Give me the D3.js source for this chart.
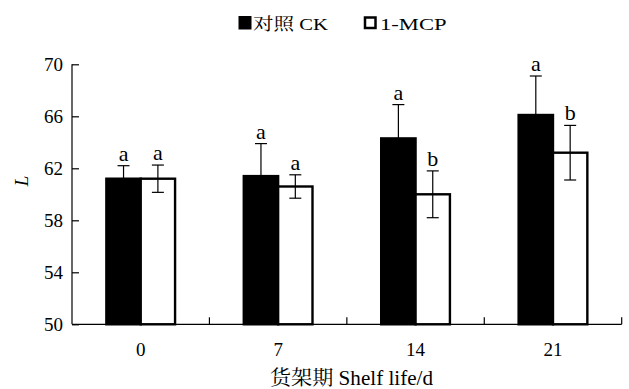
<!DOCTYPE html>
<html>
<head>
<meta charset="utf-8">
<script src="https://cdn.jsdelivr.net/npm/d3@7/dist/d3.min.js"></script>
<style>
  html, body { margin: 0; padding: 0; background: #fff; }
  svg { display: block; }
  text { font-family: "Liberation Serif", "Times New Roman", "Noto Serif CJK SC", "Noto Sans CJK SC", serif; fill: #000; }
</style>
</head>
<body>
<svg id="chart" width="629" height="389"></svg>
<script>
// Shelf-life days and L* values (mean ± SD) for control and 1-MCP treatment
const days = ["0", "7", "14", "21"];
const seriesNames = ["对照 CK", "1-MCP"];
const ckMean = [61.2, 61.4, 64.3, 66.1];
const ckErr = [1.0, 2.5, 2.6, 3.0];
const mcpMean = [61.2, 60.6, 60.0, 63.2];
const mcpErr = [1.05, 0.9, 1.8, 2.1];
const ckSig = ["a", "a", "a", "a"];
const mcpSig = ["a", "a", "b", "b"];
const yTicks = [50, 54, 58, 62, 66, 70];

const series = [
  { name: seriesNames[0], mean: ckMean, err: ckErr, sig: ckSig, fill: "#000" },
  { name: seriesNames[1], mean: mcpMean, err: mcpErr, sig: mcpSig, fill: "#fff" }
];

const svg = d3.select("#chart");
const plotL = 72, plotR = 621.7, plotT = 64.3, plotB = 324.3;

const x = d3.scaleBand().domain(days).range([plotL, plotR])
  .paddingInner(0.5).paddingOuter(0.25);
const xs = d3.scaleBand().domain(seriesNames).range([0, x.bandwidth()]);
const y = d3.scaleLinear().domain([50, 70]).range([plotB, plotT]);

// Bars
series.forEach(s => {
  const g = svg.append("g");
  g.selectAll("rect").data(days).join("rect")
    .attr("x", d => x(d) + xs(s.name))
    .attr("y", (d, i) => y(s.mean[i]))
    .attr("width", xs.bandwidth())
    .attr("height", (d, i) => y(50) - y(s.mean[i]))
    .attr("fill", s.fill)
    .attr("stroke", "#000")
    .attr("stroke-width", 2.4);
});

// Error bars and significance letters
series.forEach(s => {
  const g = svg.append("g").attr("stroke", "#000").attr("stroke-width", 1.2);
  days.forEach((d, i) => {
    const cx = x(d) + xs(s.name) + xs.bandwidth() / 2;
    const hi = y(s.mean[i] + s.err[i]);
    const lo = y(s.mean[i] - s.err[i]);
    g.append("line").attr("x1", cx).attr("x2", cx).attr("y1", hi).attr("y2", lo);
    g.append("line").attr("x1", cx - 6).attr("x2", cx + 6).attr("y1", hi).attr("y2", hi);
    g.append("line").attr("x1", cx - 6).attr("x2", cx + 6).attr("y1", lo).attr("y2", lo);
    svg.append("text")
      .attr("x", cx).attr("y", hi - 5)
      .attr("text-anchor", "middle")
      .attr("font-size", 22)
      .text(s.sig[i]);
  });
});

// Y axis with inward ticks
const yAxis = svg.append("g").attr("transform", `translate(${plotL},0)`)
  .call(d3.axisRight(y).tickValues(yTicks).tickSize(7).tickFormat(""));
yAxis.select(".domain").attr("d", `M0,${plotB}V${plotT}`).attr("stroke-width", 1.2);
yAxis.selectAll(".tick line").attr("stroke-width", 1.2);
svg.append("g").selectAll("text").data(yTicks).join("text")
  .attr("x", plotL - 9).attr("y", d => y(d))
  .attr("dy", "0.35em")
  .attr("text-anchor", "end")
  .attr("font-size", 19)
  .text(d => d);

// X axis: ticks at category boundaries pointing up
const gap = x.step() - x.bandwidth();
const xEdges = days.slice(1).map(d => x(d) - gap / 2).concat([plotR]);
const xg = svg.append("g");
xg.append("line").attr("x1", plotL).attr("x2", plotR).attr("y1", plotB).attr("y2", plotB)
  .attr("stroke", "#000").attr("stroke-width", 1.2);
xg.selectAll("line.tk").data(xEdges).join("line").attr("class", "tk")
  .attr("x1", d => d).attr("x2", d => d).attr("y1", plotB).attr("y2", plotB - 7)
  .attr("stroke", "#000").attr("stroke-width", 1.2);
xg.selectAll("text").data(days).join("text")
  .attr("x", d => x(d) + x.bandwidth() / 2)
  .attr("y", 356)
  .attr("text-anchor", "middle")
  .attr("font-size", 19)
  .text(d => d);

// Axis titles
svg.append("text")
  .attr("x", 270).attr("y", 385)
  .attr("font-size", 20)
  .attr("textLength", 163)
  .attr("lengthAdjust", "spacingAndGlyphs")
  .text("货架期 Shelf life/d");
svg.append("text")
  .attr("transform", "translate(28,181) rotate(-90)")
  .attr("text-anchor", "middle")
  .attr("font-size", 19)
  .attr("font-style", "italic")
  .text("L");

// Legend
const legend = svg.append("g");
legend.append("rect").attr("x", 238.5).attr("y", 16).attr("width", 13).attr("height", 13.5).attr("fill", "#000");
legend.append("text").attr("x", 253).attr("y", 29.5).attr("font-size", 17.5)
  .attr("textLength", 75).attr("lengthAdjust", "spacingAndGlyphs").text(seriesNames[0]);
legend.append("rect").attr("x", 365).attr("y", 17.5).attr("width", 10.5).attr("height", 10.5)
  .attr("fill", "#fff").attr("stroke", "#000").attr("stroke-width", 2.5);
legend.append("text").attr("x", 380).attr("y", 29.5).attr("font-size", 17.5)
  .attr("textLength", 66.5).attr("lengthAdjust", "spacingAndGlyphs").text(seriesNames[1]);
</script>
</body>
</html>
